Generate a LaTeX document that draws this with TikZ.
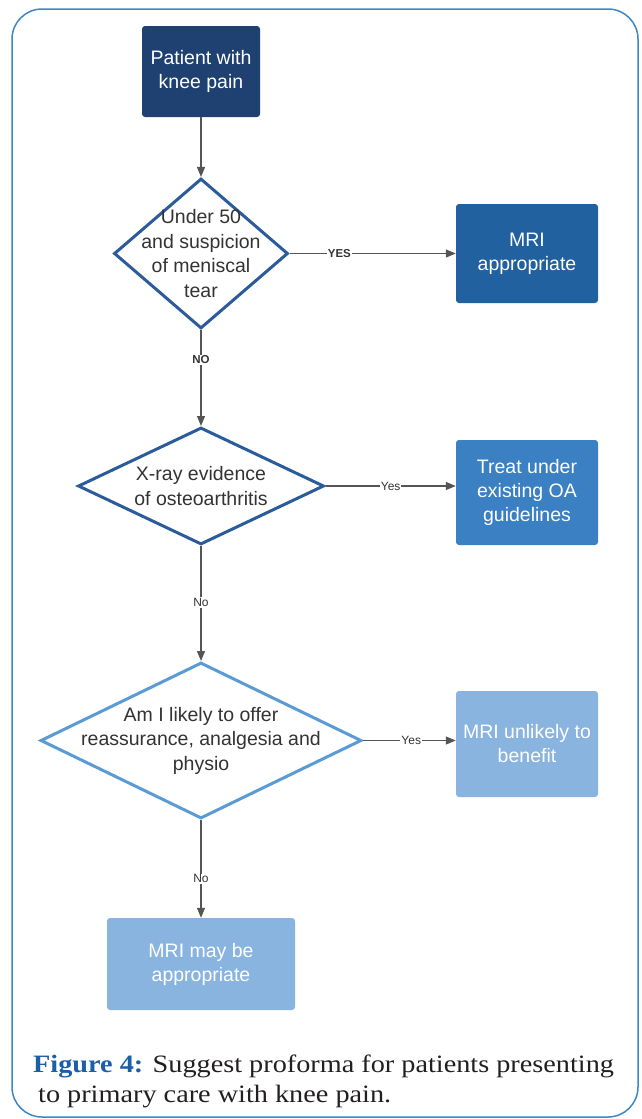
\documentclass[tikz,border=0pt]{standalone}
\usepackage{fontspec}
\setmainfont{Liberation Serif}
\newfontfamily\capfont[FakeStretch=1.13]{Liberation Serif}
\newfontfamily\flowfont{Liberation Sans}
\usetikzlibrary{shapes.geometric,arrows.meta}
\definecolor{navy}{HTML}{1F4172}
\definecolor{mriA}{HTML}{2161A0}
\definecolor{treatC}{HTML}{3B80C3}
\definecolor{lightC}{HTML}{8AB4E0}
\definecolor{diaA}{HTML}{2B5B9B}
\definecolor{diaB}{HTML}{2A5C9C}
\definecolor{diaC}{HTML}{5B9BD5}
\definecolor{borderC}{HTML}{3D87C7}
\definecolor{lineG}{HTML}{555555}
\definecolor{textG}{HTML}{333333}
\definecolor{figBlue}{HTML}{1B5FA8}
\definecolor{capText}{HTML}{231F20}
\begin{document}
\begin{tikzpicture}[x=1pt,y=-1pt,
  flowbox/.style={rectangle,rounded corners=3pt,draw=none,text=white,align=center,
    font=\flowfont\fontsize{19.5}{24}\selectfont,inner sep=0pt},
  dia/.style={diamond,line width=3pt,fill=white,inner sep=0pt},
  dtext/.style={align=center,text=textG,font=\flowfont\fontsize{19.5}{24.5}\selectfont},
  conn/.style={draw=lineG,line width=1.2pt,-{Triangle[length=10pt,width=8pt]}},
  lab/.style={fill=white,inner sep=1pt,text=textG,font=\flowfont\fontsize{12}{14}\selectfont},
  blab/.style={lab,font=\flowfont\bfseries\fontsize{11.5}{13}\selectfont},
  captext/.style={anchor=base west,inner sep=0pt,text=capText,font=\capfont\fontsize{25}{30}\selectfont}]

\useasboundingbox (0,0) rectangle (642,1119);
\draw[borderC,line width=1.5pt,rounded corners=30pt] (12,9) rectangle (638,1117);

\node[flowbox,fill=navy,minimum width=118pt,minimum height=91pt] (p) at (201,71.5) {Patient with\\knee pain};

\node[dia,draw=diaA,minimum width=174pt,minimum height=150pt,
  label={[dtext]center:Under 50\\and suspicion\\of meniscal\\tear}] (d1) at (201,253.5) {};
\node[flowbox,fill=mriA,minimum width=142pt,minimum height=99pt] (m1) at (527,253.5) {MRI\\appropriate};

\node[dia,draw=diaB,minimum width=246pt,minimum height=117pt,
  label={[dtext]center:X-ray evidence\\of osteoarthritis}] (d2) at (201,486) {};
\node[flowbox,fill=treatC,minimum width=142pt,minimum height=105pt] (t) at (527,492.5) {Treat under\\existing OA\\guidelines};

\node[dia,draw=diaC,minimum width=321pt,minimum height=156pt,
  label={[dtext]center:Am I likely to offer\\reassurance, analgesia and\\physio}] (d3) at (201,740.5) {};
\node[flowbox,fill=lightC,minimum width=142pt,minimum height=106pt] (u) at (527,744) {MRI unlikely to\\benefit};

\node[flowbox,fill=lightC,minimum width=188pt,minimum height=92pt] (may) at (201,964) {MRI may be\\appropriate};

\draw[conn] (p) -- (d1);
\draw[conn] (d1.east) -- node[blab,pos=0.3]{YES} (m1.west);
\draw[conn] (d1.south) -- node[blab,pos=0.31]{NO} (d2.north);
\draw[conn] (d2.east) -- node[lab,pos=0.5]{Yes} (t.west |- d2.east);
\draw[conn] (d2.south) -- node[lab,pos=0.49]{No} (d3.north);
\draw[conn] (d3.east) -- node[lab,pos=0.52]{Yes} (u.west |- d3.east);
\draw[conn] (d3.south) -- node[lab,pos=0.6]{No} (may.north);

\node[captext] (cap1) at (33,1072)
  {\textbf{\color{figBlue}Figure 4:} Suggest proforma for patients presenting};
\node[captext] (cap2) at (38,1102)
  {to primary care with knee pain.};
\end{tikzpicture}
\end{document}
